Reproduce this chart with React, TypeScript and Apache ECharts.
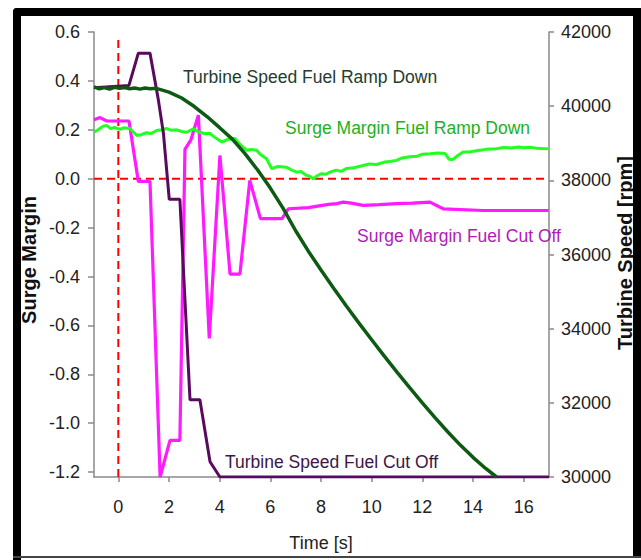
import React, { useEffect, useRef } from "react";
import * as echarts from "echarts";

// Time ticks (s)
const timeTicks = [0, 2, 4, 6, 8, 10, 12, 14, 16];
const surgeTicks = [-1.2, -1.0, -0.8, -0.6, -0.4, -0.2, 0.0, 0.2, 0.4, 0.6];

// Turbine Speed Fuel Ramp Down (rpm)
const rampSpeedT = [-0.96, -0.75, -0.55, -0.35, -0.15, 0.05, 0.25, 0.45, 0.65, 0.85, 1.05, 1.25, 1.5, 2.0, 2.5, 3.0, 3.5, 4.0, 4.5, 5.0, 5.5, 6.0, 6.5, 7.0, 7.5, 8.0, 8.5, 9.0, 9.5, 10.0, 10.5, 11.0, 11.5, 12.0, 12.5, 13.0, 13.5, 14.0, 14.5, 14.93];
const rampSpeedRpm = [40520, 40470, 40500, 40460, 40510, 40480, 40500, 40470, 40490, 40460, 40490, 40470, 40480, 40380, 40220, 39990, 39720, 39420, 39110, 38720, 38280, 37790, 37250, 36640, 36090, 35580, 35090, 34610, 34150, 33700, 33260, 32830, 32410, 32000, 31600, 31220, 30860, 30530, 30230, 30000];

// Turbine Speed Fuel Cut Off (rpm)
const cutSpeedT = [-0.96, 0.42, 0.79, 1.25, 1.58, 1.78, 2.01, 2.43, 2.83, 3.22, 3.62, 4.01, 17];
const cutSpeedRpm = [40500, 40560, 41430, 41430, 40170, 39270, 37490, 37490, 32080, 32080, 30410, 30000, 30000];

// Surge Margin Fuel Ramp Down
const rampSurgeT = [-0.96, -0.8, -0.6, -0.46, -0.3, -0.15, 0.07, 0.2, 0.46, 0.6, 0.73, 0.9, 1.1, 1.3, 1.51, 1.7, 1.91, 2.1, 2.3, 2.5, 2.7, 2.96, 3.1, 3.22, 3.42, 3.6, 3.8, 4.08, 4.3, 4.6, 4.8, 5.07, 5.25, 5.46, 5.6, 5.85, 6.05, 6.3, 6.64, 6.85, 7.04, 7.2, 7.4, 7.55, 7.69, 7.85, 8.0, 8.2, 8.35, 8.6, 8.8, 9.0, 9.3, 9.66, 9.9, 10.2, 10.5, 10.7, 10.98, 11.2, 11.5, 11.8, 12.0, 12.3, 12.6, 12.9, 13.05, 13.2, 13.4, 13.61, 13.9, 14.2, 14.5, 14.93, 15.2, 15.5, 15.8, 16.0, 16.24, 16.5, 16.7, 16.99];
const rampSurgeVal = [0.19, 0.2, 0.215, 0.218, 0.205, 0.21, 0.202, 0.208, 0.205, 0.19, 0.177, 0.18, 0.188, 0.185, 0.197, 0.2, 0.205, 0.198, 0.2, 0.193, 0.19, 0.204, 0.195, 0.19, 0.184, 0.186, 0.17, 0.15, 0.16, 0.164, 0.14, 0.116, 0.12, 0.116, 0.1, 0.082, 0.041, 0.05, 0.047, 0.035, 0.027, 0.03, 0.015, 0.01, 0.0, 0.012, 0.02, 0.018, 0.027, 0.035, 0.03, 0.042, 0.045, 0.054, 0.06, 0.058, 0.068, 0.07, 0.075, 0.085, 0.09, 0.092, 0.1, 0.102, 0.105, 0.103, 0.08, 0.078, 0.095, 0.109, 0.11, 0.115, 0.12, 0.123, 0.128, 0.126, 0.13, 0.127, 0.129, 0.125, 0.124, 0.123];

// Surge Margin Fuel Cut Off
const cutSurgeT = [-0.96, -0.72, -0.46, 0.42, 0.79, 1.25, 1.65, 2.04, 2.43, 2.63, 2.87, 3.16, 3.59, 4.01, 4.41, 4.8, 5.19, 5.61, 6.46, 6.71, 7.5, 8.3, 8.62, 8.88, 9.2, 9.66, 10.3, 10.98, 11.6, 12.3, 12.82, 14.4, 16.99];
const cutSurgeVal = [0.241, 0.25, 0.236, 0.236, -0.011, -0.011, -1.22, -1.07, -1.07, 0.12, 0.16, 0.26, -0.653, 0.095, -0.39, -0.39, -0.007, -0.163, -0.163, -0.123, -0.118, -0.105, -0.102, -0.096, -0.1, -0.109, -0.106, -0.102, -0.1, -0.096, -0.123, -0.13, -0.13];

// Reference lines
const zeroLine = [[-0.96, 0], [17, 0]];
const startLine = [[0, -1.22], [0, 0.58]];

const zip = (a: number[], b: number[]) => a.map((v, i) => [v, b[i]]);

export default function App() {
  const ref = useRef<HTMLDivElement>(null);
  useEffect(() => {
    const chart = echarts.init(ref.current!, null, { renderer: "svg" });
    const font = "'Liberation Sans', Arial, sans-serif";
    const axisLineStyle = { color: "#8a8a8a", width: 1.5 };
    const labelStyle = { color: "#222", fontSize: 18, fontFamily: font };
    const lineSeries = (name: string, data: number[][], color: string, yAxisIndex: number, width: number, z: number) => ({
      name,
      type: "line",
      data,
      yAxisIndex,
      symbol: "none",
      showSymbol: false,
      z,
      lineStyle: { color, width },
      itemStyle: { color },
      emphasis: { disabled: true },
    });
    chart.setOption({
      animation: false,
      backgroundColor: "#ffffff",
      grid: { left: 94, right: 92, top: 32, bottom: 83, containLabel: false },
      xAxis: {
        type: "value",
        min: -0.96,
        max: 17,
        axisLine: { show: true, onZero: false, lineStyle: axisLineStyle },
        axisTick: { show: true, length: 5, customValues: timeTicks, lineStyle: axisLineStyle },
        axisLabel: { ...labelStyle, margin: 21, customValues: timeTicks, formatter: (v: number) => String(v) },
        splitLine: { show: false },
      },
      yAxis: [
        {
          type: "value",
          position: "left",
          min: -1.22,
          max: 0.6,
          axisLine: { show: true, onZero: false, lineStyle: axisLineStyle },
          axisTick: { show: true, length: 6, customValues: surgeTicks, lineStyle: axisLineStyle },
          axisLabel: { ...labelStyle, margin: 14, customValues: surgeTicks, formatter: (v: number) => v.toFixed(1) },
          splitLine: { show: false },
        },
        {
          type: "value",
          position: "right",
          min: 30000,
          max: 42000,
          interval: 2000,
          alignTicks: false,
          axisLine: { show: true, onZero: false, lineStyle: axisLineStyle },
          axisTick: { show: true, length: 5, lineStyle: axisLineStyle },
          axisLabel: { ...labelStyle, margin: 12, formatter: (v: number) => String(v) },
          splitLine: { show: false },
        },
      ],
      series: [
        {
          type: "line",
          data: zeroLine,
          yAxisIndex: 0,
          symbol: "none",
          z: 1,
          lineStyle: { color: "#ff0000", width: 2, type: [8, 5] },
        },
        {
          type: "line",
          data: startLine,
          yAxisIndex: 0,
          symbol: "none",
          z: 1,
          lineStyle: { color: "#ff0000", width: 2, type: [8, 5] },
        },
        lineSeries("Surge Margin Fuel Cut Off", zip(cutSurgeT, cutSurgeVal), "#ff1aff", 0, 3.2, 2),
        lineSeries("Surge Margin Fuel Ramp Down", zip(rampSurgeT, rampSurgeVal), "#22ff22", 0, 3, 3),
        lineSeries("Turbine Speed Fuel Cut Off", zip(cutSpeedT, cutSpeedRpm), "#5a0a5e", 1, 3, 4),
        lineSeries("Turbine Speed Fuel Ramp Down", zip(rampSpeedT, rampSpeedRpm), "#0d5a12", 1, 3.5, 5),
      ],
      graphic: [
        { type: "rect", shape: { x: 13, y: 8, width: 8, height: 552, r: [4, 0, 0, 0] }, style: { fill: "#000" }, z: 100 },
        { type: "rect", shape: { x: 13, y: 8, width: 628, height: 8, r: [4, 0, 0, 0] }, style: { fill: "#000" }, z: 100 },
        { type: "rect", shape: { x: 633, y: 8, width: 8, height: 550 }, style: { fill: "#000" }, z: 100 },
        { type: "rect", shape: { x: 13, y: 556, width: 628, height: 2 }, style: { fill: "#444" }, z: 100 },
        {
          type: "text", x: 183, y: 77,
          style: { text: "Turbine Speed Fuel Ramp Down", fill: "#233d2d", font: `17.5px ${font}`, textVerticalAlign: "middle" },
          z: 50,
        },
        {
          type: "text", x: 285, y: 128,
          style: { text: "Surge Margin Fuel Ramp Down", fill: "#22b022", font: `17.5px ${font}`, textVerticalAlign: "middle" },
          z: 50,
        },
        {
          type: "text", x: 357, y: 236,
          style: { text: "Surge Margin Fuel Cut Off", fill: "#b01cb8", font: `17.5px ${font}`, textVerticalAlign: "middle" },
          z: 50,
        },
        {
          type: "text", x: 225, y: 462,
          style: { text: "Turbine Speed Fuel Cut Off", fill: "#3c1646", font: `17.5px ${font}`, textVerticalAlign: "middle" },
          z: 50,
        },
        {
          type: "text", x: 29, y: 260, rotation: Math.PI / 2,
          style: { text: "Surge Margin", fill: "#111", font: `bold 20px ${font}`, textAlign: "center", textVerticalAlign: "middle" },
          z: 50,
        },
        {
          type: "text", x: 625, y: 253, rotation: Math.PI / 2,
          style: { text: "Turbine Speed [rpm]", fill: "#111", font: `bold 20px ${font}`, textAlign: "center", textVerticalAlign: "middle" },
          z: 50,
        },
        {
          type: "text", x: 321, y: 543,
          style: { text: "Time [s]", fill: "#222", font: `18px ${font}`, textAlign: "center", textVerticalAlign: "middle" },
          z: 50,
        },
      ],
    });
    return () => chart.dispose();
  }, []);
  return <div ref={ref} style={{ position: "absolute", left: 0, top: 0, width: 641, height: 560 }} />;
}
